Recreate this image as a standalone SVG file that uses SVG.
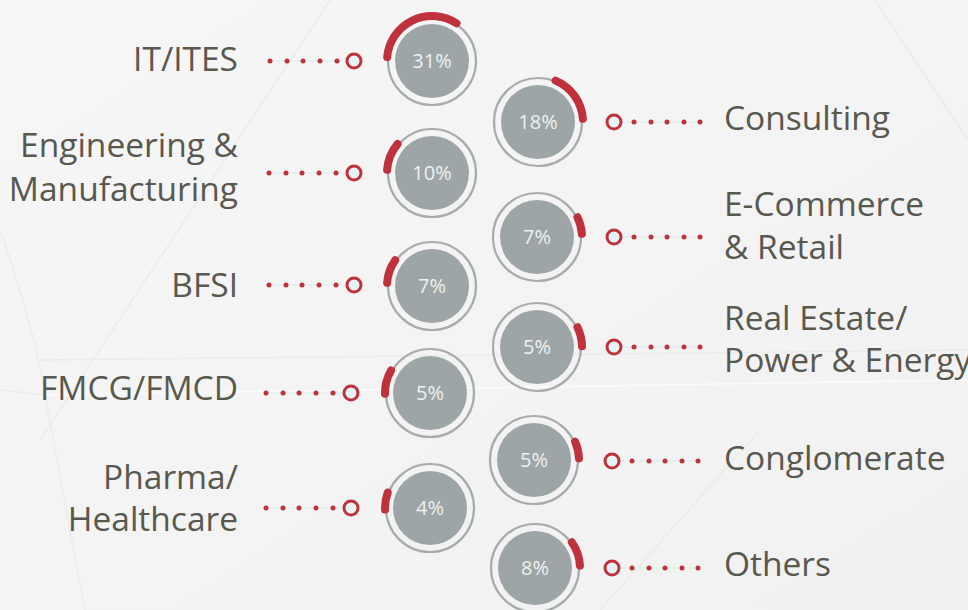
<svg xmlns="http://www.w3.org/2000/svg" width="968" height="610" viewBox="0 0 968 610">
<defs>
<style>
.lbl{font-family:"Open Sans","Liberation Sans",sans-serif;font-size:33.5px;fill:#58584f}
.pct{font-family:"Open Sans","Liberation Sans",sans-serif;font-size:20px;fill:#eef1f1;text-anchor:middle}
.ring{fill:none;stroke:#a6acad;stroke-width:2.2}
.core{fill:#9da5a7}
.arc{fill:none;stroke:#c0323b;stroke-width:8;stroke-linecap:round}
.dot{fill:#c0323b}
.end{fill:#e6f3f4;stroke:#c0323b;stroke-width:3}
.guide{stroke:#e2eef0;stroke-width:1.5}
.bgl{fill:none;stroke:#ebebeb;stroke-width:1.5}
.bgw{fill:none;stroke:#fbfbfb;stroke-width:1.5}
</style>
<linearGradient id="bg" x1="0" y1="0" x2="1" y2="1">
<stop offset="0" stop-color="#f6f6f6"/>
<stop offset="1" stop-color="#f1f1f1"/>
</linearGradient>
</defs>
<rect width="968" height="610" fill="url(#bg)"/>
<g id="background">
<path class="bgl" d="M330 0 L40 440"/>
<path class="bgl" d="M0 230 Q35 330 45 395 L85 610"/>
<path class="bgl" d="M40 360 L968 350"/>
<path class="bgw" d="M45 395 L968 380"/>
<path class="bgl" d="M0 390 L45 395"/>
<path class="bgl" d="M875 0 L968 140"/>
<path class="bgl" d="M600 610 L760 430"/>
</g>
<g id="connectors">
<g id="c-it"><line class="guide" x1="270" y1="61" x2="354" y2="61"/><circle class="dot" cx="270" cy="61" r="2.5"/><circle class="dot" cx="287" cy="61" r="2.5"/><circle class="dot" cx="303" cy="61" r="2.5"/><circle class="dot" cx="320" cy="61" r="2.5"/><circle class="dot" cx="337" cy="61" r="2.5"/><circle class="end" cx="354" cy="61" r="7"/></g>
<g id="c-eng"><line class="guide" x1="269" y1="173" x2="354" y2="173"/><circle class="dot" cx="269" cy="173" r="2.5"/><circle class="dot" cx="286" cy="173" r="2.5"/><circle class="dot" cx="302" cy="173" r="2.5"/><circle class="dot" cx="319" cy="173" r="2.5"/><circle class="dot" cx="336" cy="173" r="2.5"/><circle class="end" cx="354" cy="173" r="7"/></g>
<g id="c-bfsi"><line class="guide" x1="269" y1="285" x2="354" y2="285"/><circle class="dot" cx="269" cy="285" r="2.5"/><circle class="dot" cx="286" cy="285" r="2.5"/><circle class="dot" cx="302" cy="285" r="2.5"/><circle class="dot" cx="319" cy="285" r="2.5"/><circle class="dot" cx="336" cy="285" r="2.5"/><circle class="end" cx="354" cy="285" r="7"/></g>
<g id="c-fmcg"><line class="guide" x1="266" y1="393" x2="351" y2="393"/><circle class="dot" cx="266" cy="393" r="2.5"/><circle class="dot" cx="283" cy="393" r="2.5"/><circle class="dot" cx="299" cy="393" r="2.5"/><circle class="dot" cx="316" cy="393" r="2.5"/><circle class="dot" cx="333" cy="393" r="2.5"/><circle class="end" cx="351" cy="393" r="7"/></g>
<g id="c-pharma"><line class="guide" x1="266" y1="508" x2="351" y2="508"/><circle class="dot" cx="266" cy="508" r="2.5"/><circle class="dot" cx="283" cy="508" r="2.5"/><circle class="dot" cx="299" cy="508" r="2.5"/><circle class="dot" cx="316" cy="508" r="2.5"/><circle class="dot" cx="333" cy="508" r="2.5"/><circle class="end" cx="351" cy="508" r="7"/></g>
<g id="c-cons"><line class="guide" x1="614" y1="122" x2="700" y2="122"/><circle class="end" cx="614" cy="122" r="7"/><circle class="dot" cx="634" cy="122" r="2.5"/><circle class="dot" cx="651" cy="122" r="2.5"/><circle class="dot" cx="667" cy="122" r="2.5"/><circle class="dot" cx="684" cy="122" r="2.5"/><circle class="dot" cx="700" cy="122" r="2.5"/></g>
<g id="c-ecom"><line class="guide" x1="614" y1="237" x2="700" y2="237"/><circle class="end" cx="614" cy="237" r="7"/><circle class="dot" cx="634" cy="237" r="2.5"/><circle class="dot" cx="651" cy="237" r="2.5"/><circle class="dot" cx="667" cy="237" r="2.5"/><circle class="dot" cx="684" cy="237" r="2.5"/><circle class="dot" cx="700" cy="237" r="2.5"/></g>
<g id="c-real"><line class="guide" x1="614" y1="347" x2="700" y2="347"/><circle class="end" cx="614" cy="347" r="7"/><circle class="dot" cx="634" cy="347" r="2.5"/><circle class="dot" cx="651" cy="347" r="2.5"/><circle class="dot" cx="667" cy="347" r="2.5"/><circle class="dot" cx="684" cy="347" r="2.5"/><circle class="dot" cx="700" cy="347" r="2.5"/></g>
<g id="c-cong"><line class="guide" x1="612" y1="461" x2="698" y2="461"/><circle class="end" cx="612" cy="461" r="7"/><circle class="dot" cx="632" cy="461" r="2.5"/><circle class="dot" cx="649" cy="461" r="2.5"/><circle class="dot" cx="665" cy="461" r="2.5"/><circle class="dot" cx="682" cy="461" r="2.5"/><circle class="dot" cx="698" cy="461" r="2.5"/></g>
<g id="c-oth"><line class="guide" x1="612" y1="568" x2="698" y2="568"/><circle class="end" cx="612" cy="568" r="7"/><circle class="dot" cx="632" cy="568" r="2.5"/><circle class="dot" cx="649" cy="568" r="2.5"/><circle class="dot" cx="665" cy="568" r="2.5"/><circle class="dot" cx="682" cy="568" r="2.5"/><circle class="dot" cx="698" cy="568" r="2.5"/></g>
</g>
<g id="n-it"><circle class="ring" cx="432" cy="61" r="44"/><circle class="core" cx="432" cy="61" r="37"/><path class="arc" d="M387.17 57.08 A45 45 0 0 1 456.51 23.26"/><text class="pct" x="432" y="68">31%</text><text class="lbl" x="238" y="71" text-anchor="end">IT/ITES</text></g>
<g id="n-eng"><circle class="ring" cx="432" cy="173" r="44"/><circle class="core" cx="432" cy="173" r="37"/><path class="arc" d="M387.11 169.86 A45 45 0 0 1 397.53 144.07"/><text class="pct" x="432" y="180">10%</text><text class="lbl" x="238" y="157" text-anchor="end">Engineering &amp;</text><text class="lbl" x="238" y="201" text-anchor="end">Manufacturing</text></g>
<g id="n-bfsi"><circle class="ring" cx="432" cy="286" r="44"/><circle class="core" cx="432" cy="286" r="37"/><path class="arc" d="M387.11 282.86 A45 45 0 0 1 395.14 260.19"/><text class="pct" x="432" y="293">7%</text><text class="lbl" x="238" y="297" text-anchor="end">BFSI</text></g>
<g id="n-fmcg"><circle class="ring" cx="430" cy="393" r="44"/><circle class="core" cx="430" cy="393" r="37"/><path class="arc" d="M385.01 393.79 A45 45 0 0 1 391.03 370.5"/><text class="pct" x="430" y="400">5%</text><text class="lbl" x="238" y="400" text-anchor="end">FMCG/FMCD</text></g>
<g id="n-pharma"><circle class="ring" cx="430" cy="508" r="44"/><circle class="core" cx="430" cy="508" r="37"/><path class="arc" d="M385.03 509.57 A45 45 0 0 1 387.71 492.61"/><text class="pct" x="430" y="515">4%</text><text class="lbl" x="238" y="489" text-anchor="end">Pharma/</text><text class="lbl" x="238" y="531" text-anchor="end">Healthcare</text></g>
<g id="n-cons"><circle class="ring" cx="538" cy="122" r="44"/><circle class="core" cx="538" cy="122" r="37"/><path class="arc" d="M555.58 80.58 A45 45 0 0 1 582.89 118.86"/><text class="pct" x="538" y="129">18%</text><text class="lbl" x="724" y="130">Consulting</text></g>
<g id="n-ecom"><circle class="ring" cx="537" cy="237" r="44"/><circle class="core" cx="537" cy="237" r="37"/><path class="arc" d="M577.45 217.27 A45 45 0 0 1 581.89 233.86"/><text class="pct" x="537" y="244">7%</text><text class="lbl" x="724" y="216">E-Commerce</text><text class="lbl" x="724" y="259">&amp; Retail</text></g>
<g id="n-real"><circle class="ring" cx="537" cy="347" r="44"/><circle class="core" cx="537" cy="347" r="37"/><path class="arc" d="M577.45 327.27 A45 45 0 0 1 581.99 346.21"/><text class="pct" x="537" y="354">5%</text><text class="lbl" x="724" y="330">Real Estate/</text><text class="lbl" x="724" y="372">Power &amp; Energy</text></g>
<g id="n-cong"><circle class="ring" cx="534" cy="460" r="44"/><circle class="core" cx="534" cy="460" r="37"/><path class="arc" d="M575.11 441.70 A45 45 0 0 1 578.97 458.43"/><text class="pct" x="534" y="467">5%</text><text class="lbl" x="724" y="470">Conglomerate</text></g>
<g id="n-oth"><circle class="ring" cx="535" cy="568" r="44"/><circle class="core" cx="535" cy="568" r="37"/><path class="arc" d="M571.86 542.19 A45 45 0 0 1 579.94 565.65"/><text class="pct" x="535" y="575">8%</text><text class="lbl" x="724" y="576">Others</text></g>
</svg>
